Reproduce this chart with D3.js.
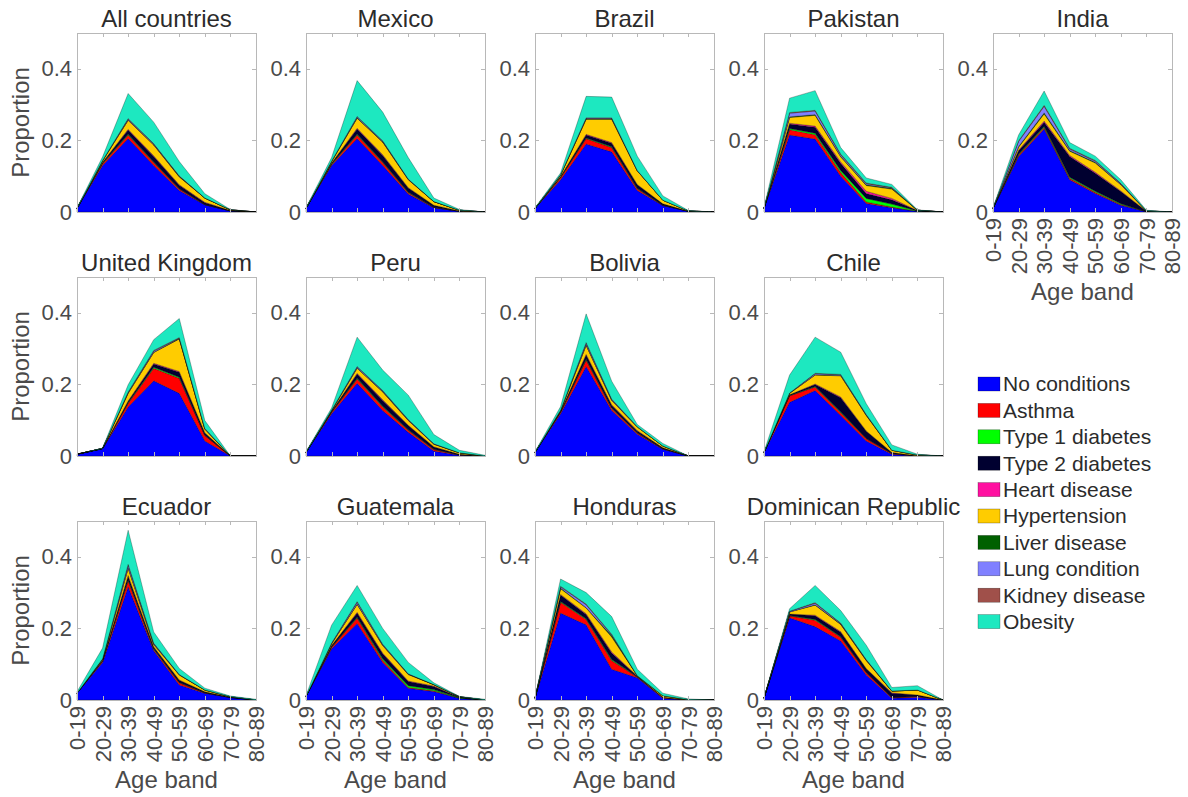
<!DOCTYPE html>
<meta charset="utf-8">
<script src="https://d3js.org/d3.v7.min.js"></script>
<style>
body { margin: 0; background: #fff; }
svg { font-family: "Liberation Sans", Arial, sans-serif; }
.axis path, .axis line { stroke: #b8b8b8; stroke-width: 1; shape-rendering: crispEdges; }
.axis text { fill: #4a4a4a; font-size: 22px; }
.title { fill: #2b2b2b; font-size: 24px; text-anchor: middle; }
.label { fill: #4a4a4a; font-size: 24px; text-anchor: middle; }
.legend text { fill: #2b2b2b; font-size: 21px; }
</style>
<body>
<script>

// age bands on the x axis
var ageBands = ["0-19", "20-29", "30-39", "40-49", "50-59", "60-69", "70-79", "80-89"];

// stacked series, bottom to top
var conditions = ["No conditions", "Asthma", "Type 1 diabetes", "Type 2 diabetes", "Heart disease",
                  "Hypertension", "Liver disease", "Lung condition", "Kidney disease", "Obesity"];
var conditionColors = ["#0000ff", "#ff0000", "#00ff00", "#000030", "#ff10a0",
                       "#ffcc00", "#006000", "#8080ff", "#a0504a", "#1de8c0"];

var yTicks = [0, 0.2, 0.4];

// one row per condition, one value per age band
var allCountries = [
  [0.01, 0.13, 0.205, 0.13, 0.06, 0.02, 0.003, 0],
  [0, 0.005, 0.01, 0.008, 0.004, 0.001, 0, 0],
  [0, 0.001, 0.002, 0.002, 0.001, 0, 0, 0],
  [0, 0.003, 0.012, 0.015, 0.01, 0.005, 0.001, 0],
  [0, 0, 0.002, 0.002, 0.001, 0.001, 0, 0],
  [0, 0.004, 0.025, 0.03, 0.022, 0.012, 0.002, 0],
  [0, 0, 0.001, 0.001, 0.001, 0, 0, 0],
  [0, 0.001, 0.003, 0.002, 0.001, 0, 0, 0],
  [0, 0, 0.001, 0.001, 0.001, 0, 0, 0],
  [0.002, 0.01, 0.07, 0.06, 0.04, 0.012, 0.001, 0]
];
var mexico = [
  [0.01, 0.13, 0.205, 0.13, 0.05, 0.012, 0.002, 0],
  [0, 0.003, 0.01, 0.008, 0.004, 0.001, 0, 0],
  [0, 0.001, 0.002, 0.002, 0.001, 0, 0, 0],
  [0, 0.003, 0.015, 0.018, 0.012, 0.006, 0.001, 0],
  [0, 0, 0.002, 0.002, 0.001, 0, 0, 0],
  [0, 0.004, 0.028, 0.035, 0.022, 0.01, 0.002, 0],
  [0, 0, 0.001, 0.001, 0.001, 0, 0, 0],
  [0, 0.001, 0.003, 0.002, 0.001, 0, 0, 0],
  [0, 0, 0.001, 0.001, 0, 0, 0, 0],
  [0.002, 0.01, 0.1, 0.08, 0.06, 0.01, 0.002, 0]
];
var brazil = [
  [0.01, 0.09, 0.19, 0.168, 0.06, 0.018, 0.002, 0],
  [0, 0.006, 0.015, 0.012, 0.005, 0.001, 0, 0],
  [0, 0.001, 0.002, 0.002, 0.001, 0, 0, 0],
  [0, 0.002, 0.008, 0.01, 0.01, 0.004, 0, 0],
  [0, 0, 0.002, 0.002, 0.001, 0, 0, 0],
  [0, 0.004, 0.042, 0.065, 0.038, 0.01, 0.001, 0],
  [0, 0, 0.001, 0.001, 0, 0, 0, 0],
  [0, 0.001, 0.002, 0.002, 0.001, 0, 0, 0],
  [0, 0, 0.001, 0.001, 0, 0, 0, 0],
  [0.002, 0.005, 0.06, 0.058, 0.04, 0.012, 0.001, 0]
];
var pakistan = [
  [0.01, 0.215, 0.204, 0.1, 0.024, 0.012, 0.002, 0],
  [0, 0.015, 0.012, 0.01, 0.004, 0.002, 0, 0],
  [0, 0.003, 0.004, 0.006, 0.01, 0.008, 0.001, 0],
  [0, 0.013, 0.017, 0.02, 0.014, 0.012, 0.001, 0],
  [0, 0.002, 0.003, 0.004, 0.006, 0.004, 0, 0],
  [0, 0.016, 0.03, 0.014, 0.016, 0.026, 0.001, 0],
  [0, 0.002, 0.002, 0.002, 0.002, 0.002, 0, 0],
  [0, 0.01, 0.01, 0.004, 0.003, 0.002, 0, 0],
  [0, 0.002, 0.002, 0.002, 0.002, 0.001, 0, 0],
  [0.002, 0.04, 0.055, 0.018, 0.014, 0.008, 0.001, 0]
];
var india = [
  [0.01, 0.155, 0.232, 0.09, 0.052, 0.019, 0.001, 0],
  [0, 0.004, 0.004, 0.004, 0.003, 0.002, 0, 0],
  [0, 0.002, 0.003, 0.003, 0.003, 0.002, 0, 0],
  [0, 0.01, 0.012, 0.058, 0.05, 0.034, 0.001, 0],
  [0, 0.002, 0.003, 0.003, 0.003, 0.002, 0, 0],
  [0, 0.008, 0.02, 0.012, 0.026, 0.017, 0.001, 0],
  [0, 0.002, 0.003, 0.002, 0.002, 0.001, 0, 0],
  [0, 0.014, 0.018, 0.004, 0.003, 0.002, 0, 0],
  [0, 0.002, 0.003, 0.002, 0.002, 0.001, 0, 0],
  [0.002, 0.016, 0.04, 0.016, 0.012, 0.01, 0.002, 0]
];
var unitedKingdom = [
  [0.005, 0.02, 0.137, 0.21, 0.175, 0.042, 0, 0],
  [0, 0.001, 0.01, 0.035, 0.042, 0.015, 0, 0],
  [0, 0, 0.002, 0.003, 0.003, 0.001, 0, 0],
  [0, 0, 0.004, 0.009, 0.014, 0.006, 0, 0],
  [0, 0, 0.001, 0.002, 0.002, 0.001, 0, 0],
  [0, 0, 0.021, 0.03, 0.091, 0.01, 0, 0],
  [0, 0, 0.001, 0.001, 0.001, 0, 0, 0],
  [0, 0, 0.002, 0.003, 0.001, 0.001, 0, 0],
  [0, 0, 0.001, 0.002, 0.002, 0.001, 0, 0],
  [0, 0.001, 0.02, 0.03, 0.053, 0.022, 0, 0]
];
var peru = [
  [0.01, 0.118, 0.203, 0.127, 0.066, 0.014, 0.002, 0],
  [0, 0.004, 0.012, 0.01, 0.006, 0.004, 0.001, 0],
  [0, 0.001, 0.002, 0.002, 0.001, 0.001, 0, 0],
  [0, 0.002, 0.012, 0.016, 0.012, 0.006, 0.002, 0],
  [0, 0, 0.002, 0.002, 0.001, 0.001, 0, 0],
  [0, 0.002, 0.014, 0.022, 0.013, 0.007, 0.004, 0],
  [0, 0, 0.001, 0.001, 0.001, 0, 0, 0],
  [0, 0.001, 0.003, 0.002, 0.001, 0.001, 0, 0],
  [0, 0, 0.001, 0.001, 0.001, 0, 0, 0],
  [0.002, 0.006, 0.082, 0.057, 0.068, 0.026, 0.007, 0.002]
];
var bolivia = [
  [0.01, 0.118, 0.25, 0.127, 0.061, 0.019, 0, 0],
  [0, 0.004, 0.018, 0.006, 0.003, 0.001, 0, 0],
  [0, 0.001, 0.002, 0.001, 0.001, 0, 0, 0],
  [0, 0.002, 0.012, 0.008, 0.005, 0.003, 0, 0],
  [0, 0, 0.002, 0.001, 0.001, 0, 0, 0],
  [0, 0.002, 0.025, 0.012, 0.01, 0.005, 0, 0],
  [0, 0, 0.001, 0.001, 0, 0, 0, 0],
  [0, 0.001, 0.005, 0.002, 0.001, 0, 0, 0],
  [0, 0, 0.002, 0.001, 0, 0, 0, 0],
  [0.002, 0.01, 0.08, 0.05, 0.006, 0.007, 0, 0]
];
var chile = [
  [0.01, 0.15, 0.183, 0.113, 0.042, 0.005, 0, 0],
  [0, 0.018, 0.01, 0.008, 0.006, 0.002, 0, 0],
  [0, 0.001, 0.001, 0.002, 0.001, 0, 0, 0],
  [0, 0.002, 0.006, 0.04, 0.02, 0.003, 0.001, 0],
  [0, 0, 0.001, 0.002, 0.001, 0, 0, 0],
  [0, 0.004, 0.025, 0.059, 0.043, 0.006, 0.002, 0],
  [0, 0, 0.001, 0.001, 0.001, 0, 0, 0],
  [0, 0.001, 0.003, 0.002, 0.001, 0, 0, 0],
  [0, 0, 0.001, 0.001, 0.001, 0, 0, 0],
  [0.002, 0.05, 0.101, 0.062, 0.03, 0.015, 0.002, 0]
];
var ecuador = [
  [0.019, 0.105, 0.316, 0.138, 0.042, 0.019, 0.007, 0],
  [0, 0.003, 0.018, 0.004, 0.006, 0.001, 0, 0],
  [0, 0.001, 0.002, 0.001, 0.001, 0, 0, 0],
  [0, 0.002, 0.01, 0.005, 0.006, 0.003, 0.001, 0],
  [0, 0, 0.002, 0.001, 0.001, 0, 0, 0],
  [0, 0.003, 0.02, 0.006, 0.014, 0.005, 0.001, 0],
  [0, 0, 0.001, 0.001, 0, 0, 0, 0],
  [0, 0.001, 0.008, 0.002, 0.001, 0, 0, 0],
  [0, 0, 0.002, 0.001, 0, 0, 0, 0],
  [0.004, 0.03, 0.095, 0.031, 0.017, 0.005, 0.002, 0.002]
];
var guatemala = [
  [0.01, 0.143, 0.214, 0.105, 0.033, 0.024, 0.005, 0],
  [0, 0.004, 0.015, 0.006, 0.002, 0.002, 0, 0],
  [0, 0.001, 0.002, 0.004, 0.005, 0.003, 0.001, 0],
  [0, 0.004, 0.012, 0.014, 0.012, 0.009, 0.002, 0],
  [0, 0, 0.002, 0.002, 0.001, 0.001, 0, 0],
  [0, 0.005, 0.022, 0.021, 0.018, 0.004, 0.001, 0],
  [0, 0, 0.001, 0.001, 0.001, 0, 0, 0],
  [0, 0.002, 0.005, 0.002, 0.001, 0, 0, 0],
  [0, 0, 0.002, 0.001, 0, 0, 0, 0],
  [0.002, 0.05, 0.045, 0.044, 0.032, 0.005, 0.001, 0.002]
];
var honduras = [
  [0.005, 0.243, 0.21, 0.086, 0.062, 0.005, 0, 0],
  [0, 0.03, 0.015, 0.024, 0.002, 0.002, 0, 0],
  [0, 0.002, 0.002, 0.003, 0.001, 0, 0, 0],
  [0, 0.018, 0.012, 0.018, 0.001, 0.001, 0, 0],
  [0, 0.002, 0.002, 0.003, 0.001, 0, 0, 0],
  [0, 0.016, 0.016, 0.042, 0.001, 0.004, 0.001, 0],
  [0, 0.002, 0.001, 0.004, 0, 0, 0, 0],
  [0, 0.003, 0.008, 0.002, 0, 0, 0, 0],
  [0, 0.002, 0.002, 0.002, 0, 0, 0, 0],
  [0.001, 0.02, 0.032, 0.049, 0.018, 0.007, 0.002, 0]
];
var dominicanRepublic = [
  [0.005, 0.23, 0.205, 0.165, 0.07, 0.005, 0.008, 0],
  [0, 0.005, 0.018, 0.01, 0.006, 0.002, 0.002, 0],
  [0, 0.001, 0.002, 0.002, 0.001, 0, 0, 0],
  [0, 0.004, 0.01, 0.012, 0.01, 0.012, 0.004, 0],
  [0, 0, 0.002, 0.002, 0.001, 0.001, 0, 0],
  [0, 0.006, 0.028, 0.02, 0.022, 0.005, 0.014, 0],
  [0, 0, 0.001, 0.001, 0.001, 0, 0, 0],
  [0, 0.002, 0.004, 0.002, 0.001, 0, 0, 0],
  [0, 0, 0.002, 0.001, 0.001, 0, 0, 0],
  [0.001, 0.007, 0.048, 0.035, 0.04, 0.01, 0.012, 0]
];

var countryNames = ["All countries", "Mexico", "Brazil", "Pakistan", "India",
                    "United Kingdom", "Peru", "Bolivia", "Chile",
                    "Ecuador", "Guatemala", "Honduras", "Dominican Republic"];
var countryData = [allCountries, mexico, brazil, pakistan, india,
                   unitedKingdom, peru, bolivia, chile,
                   ecuador, guatemala, honduras, dominicanRepublic];

// layout
var W = 1188, H = 797;
var pw = 179, ph = 179;
var colLeft = [77, 306, 535, 764, 993];
var rowTop = [33, 277, 521];
var slots = [[0,0],[0,1],[0,2],[0,3],[0,4],
             [1,0],[1,1],[1,2],[1,3],
             [2,0],[2,1],[2,2],[2,3]];
var withXLabels = [4, 9, 10, 11, 12];

var svg = d3.select("body").append("svg")
    .attr("width", W)
    .attr("height", H);

svg.append("rect").attr("width", W).attr("height", H).attr("fill", "#fff");

var x = d3.scalePoint().domain(ageBands).range([0, pw]);
var y = d3.scaleLinear().domain([0, 0.5]).range([ph, 0]);

var stack = d3.stack().keys(d3.range(conditions.length));

var area = d3.area()
    .x(function(d, i) { return x(ageBands[i]); })
    .y0(function(d) { return y(d[0]); })
    .y1(function(d) { return y(d[1]); });

countryData.forEach(function(rows, ci) {
    var slot = slots[ci];
    var g = svg.append("g")
        .attr("transform", "translate(" + colLeft[slot[1]] + "," + rowTop[slot[0]] + ")");

    var table = ageBands.map(function(b, j) {
        var o = {};
        rows.forEach(function(r, k) { o[k] = r[j]; });
        return o;
    });
    var series = stack(table);

    g.append("rect")
        .attr("width", pw).attr("height", ph)
        .attr("fill", "#fff");

    g.selectAll(".layer")
        .data(series)
        .enter().append("path")
        .attr("class", "layer")
        .attr("d", area)
        .attr("fill", function(d) { return conditionColors[d.key]; })
        .attr("stroke", "#000")
        .attr("stroke-opacity", 0.55)
        .attr("stroke-width", 0.5);

    // box with inward ticks, like the original
    var xb = g.append("g").attr("class", "axis")
        .attr("transform", "translate(0," + ph + ")")
        .call(d3.axisBottom(x).tickSizeInner(-4).tickSizeOuter(0).tickPadding(6));
    g.append("g").attr("class", "axis")
        .call(d3.axisTop(x).tickSizeInner(-4).tickSizeOuter(0).tickFormat(""));
    g.append("g").attr("class", "axis")
        .call(d3.axisLeft(y).tickValues(yTicks).tickSizeInner(-4).tickSizeOuter(0).tickPadding(5)
            .tickFormat(function(d) { return d === 0 ? "0" : d3.format(".1f")(d); }));
    g.append("g").attr("class", "axis")
        .attr("transform", "translate(" + pw + ",0)")
        .call(d3.axisRight(y).tickValues(yTicks).tickSizeInner(-4).tickSizeOuter(0).tickFormat(""));

    if (withXLabels.indexOf(ci) >= 0) {
        xb.selectAll("text")
            .attr("transform", "rotate(-90)")
            .attr("x", -6)
            .attr("y", 0)
            .attr("dy", "0.35em")
            .style("text-anchor", "end");
        g.append("text")
            .attr("class", "label")
            .attr("x", pw / 2)
            .attr("y", ph + 88)
            .text("Age band");
    } else {
        xb.selectAll("text").remove();
    }

    if (slot[1] === 0) {
        g.append("text")
            .attr("class", "label")
            .attr("transform", "translate(-48," + (ph / 2) + ") rotate(-90)")
            .text("Proportion");
    }

    g.append("text")
        .attr("class", "title")
        .attr("x", pw / 2)
        .attr("y", -6)
        .text(countryNames[ci]);
});

// legend
var legend = svg.append("g")
    .attr("class", "legend")
    .attr("transform", "translate(978,384)");

var item = legend.selectAll("g")
    .data(conditions)
    .enter().append("g")
    .attr("transform", function(d, i) { return "translate(0," + (i * 26.4) + ")"; });

item.append("rect")
    .attr("x", 0).attr("y", -7)
    .attr("width", 22).attr("height", 14)
    .attr("fill", function(d, i) { return conditionColors[i]; })
    .attr("stroke", "#000")
    .attr("stroke-opacity", 0.5)
    .attr("stroke-width", 0.5);

item.append("text")
    .attr("x", 25)
    .attr("dy", "0.35em")
    .text(function(d) { return d; });

</script>
</body>
</html>
